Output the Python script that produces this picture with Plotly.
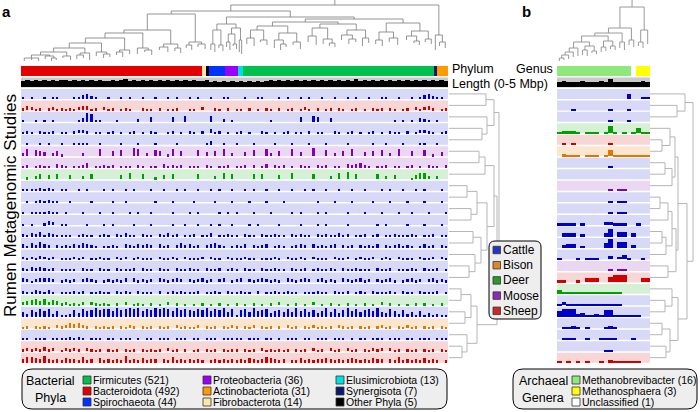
import plotly.graph_objects as go

W, H = 700, 412

# ---------------- data ----------------
phylum_names = ["Bacteroidota", "Fibrobacterota", "Other Phyla", "Spirochaeota", "Proteobacteria",
                "Elusimicrobiota", "Firmicutes", "Synergisota", "Actinobacteriota"]
phylum_counts = [492, 14, 5, 44, 36, 13, 521, 7, 31]
phylum_colors = {"Bacteroidota": "#e40000", "Fibrobacterota": "#fde7a6", "Other Phyla": "#000000",
                 "Spirochaeota": "#0033ff", "Proteobacteria": "#9a00ff", "Elusimicrobiota": "#00e0e0",
                 "Firmicutes": "#00c04e", "Synergisota": "#0b1a6e", "Actinobacteriota": "#ff9a00"}
legend_phyla_cols = [["Firmicutes", "Bacteroidota", "Spirochaeota"],
                     ["Proteobacteria", "Actinobacteriota", "Fibrobacterota"],
                     ["Elusimicrobiota", "Synergisota", "Other Phyla"]]

genus_names = ["Methanobrevibacter", "Unclassified", "Methanosphaera"]
genus_counts = [16, 1, 3]
genus_colors = {"Methanobrevibacter": "#8ee87a", "Unclassified": "#ffffff", "Methanosphaera": "#ffff00"}
legend_genera = ["Methanobrevibacter", "Methanosphaera", "Unclassified"]

host_names = ["Cattle", "Bison", "Deer", "Moose", "Sheep"]
host_bar = {"Cattle": "#0000c8", "Bison": "#e07800", "Deer": "#00a000", "Moose": "#8000c0", "Sheep": "#d00000"}
host_bg = {"Cattle": "#d8d9f6", "Bison": "#fbe6d0", "Deer": "#d6f0d6", "Moose": "#ead8f3", "Sheep": "#f7d6d6"}
host_key = {"Cattle": "#2636c4", "Bison": "#d9882e", "Deer": "#2a9a2a", "Moose": "#8a2ab8", "Sheep": "#cc2a2a"}

hosts_a = ["Cattle", "Sheep", "Cattle", "Cattle", "Cattle", "Moose", "Moose", "Deer",
           "Cattle", "Cattle", "Cattle", "Cattle", "Cattle", "Cattle", "Cattle", "Cattle", "Cattle", "Cattle",
           "Deer", "Cattle", "Bison", "Cattle", "Sheep", "Sheep"]
hosts_b = ["Cattle", "Cattle", "Cattle", "Deer", "Sheep", "Bison", "Cattle", "Cattle", "Moose",
           "Cattle", "Cattle", "Cattle", "Cattle", "Cattle", "Cattle", "Moose", "Sheep", "Deer",
           "Cattle", "Cattle", "Cattle", "Cattle", "Cattle", "Sheep"]

# genome length per bin (0-9 scale of 0-5 Mbp)
length_a = "6767676767 7676767676 6767867676 7676767676 7667565656 5656565676 7676767676 7676767686 7676767676 7676767676"
length_b = "56555 65556 58555 55565"

# relative abundance per bin of genomes (0-9), one string per study
abund_a = [
    "1020010210 0012453100 1002010010 0100201001 0200100120 0010012000 1020010100 2001002010 0100120010 0201453120",
    "2431202312 1213541203 1201210021 1020112001 1030021020 1102010210 2012013102 0120210120 1021202101 2031342012",
    "1001020100 0001498210 0010000300 5000050060 0000600301 0000000010 0000050065 0040000000 0000000201 0104310100",
    "1210211201 1023320110 1201012010 2100120102 1020412010 1201002101 0120110201 1002101201 0120102110 2013321012",
    "0100201001 0012210010 0001000100 0100002000 0002400100 1000100002 0001000200 0100001000 0010020001 0002200100",
    "3706540352 0000300070 0506008703 0650270500 0604050703 0040600730 5007040080 0603050700 4050603070 0500602040",
    "2302312043 1022350213 1302210320 1204231302 1203202130 2130302403 2302031203 1302204345 3202130120 1302031203",
    "0203504050 0400305000 0004060050 0204050000 0500030605 0000505000 4006000050 0030607050 0005030400 0146630300",
    "1121323201 1001010002 0100201000 1002001010 0100102001 0010100200 1001001010 0200100100 1000201001 0010100010",
    "0101212110 0100001000 0100100000 0100010000 1000010001 0001000100 0100000001 0001000100 0010001000 1000100010",
    "1011213110 1000100010 0100010100 1000010001 0100001010 1000100010 0001010001 0100001000 1000100010 0100010001",
    "1010024301 1000010001 0100001000 1000010010 0100101001 0001010000 1000010001 0100001000 0001010000 1000100010",
    "3243524321 2101312023 2031412031 2032413021 3021402132 2031203213 1203231203 1321423021 3023021312 1320213021",
    "4253643032 3243543202 2320432434 3042303534 2303453202 3240323402 3202343042 3234032303 2324032342 3202423032",
    "3232432301 2132302132 2032301312 2031232032 2130312032 1231201213 2031232032 1203213013 2130132032 1203213031",
    "3243432302 2120321031 2032123032 2031203213 1203213013 2031203213 1203213013 2132032132 1203213012 1320321301",
    "4313445302 3230343202 3232404232 3043234303 2342303402 3403234323 2043234303 4232043234 2303234202 3423034232",
    "3214324201 2132302131 2032310312 2030231312 2302132031 2312030213 2131201213 1203213013 2031213203 1203121302",
    "3456473542 3121303212 1020301210 2010302010 1020102010 2010201020 3010201030 1020102010 2010302010 1020201020",
    "5375868362 1374867978 8697898968 7989869787 6879687958 2785967846 7585968574 6958479685 7869548637 3526142312",
    "1202121032 3545320212 1202132021 2021203121 1302120213 2021302120 2031202131 2120321202 1202312021 3120212021",
    "1202120211 2323202120 1202120201 2021202120 1202120212 1202120120 2021202102 1202120201 2021202120 1202120212",
    "2323242301 3232032120 2120212021 2120312020 1202120212 2021203121 2120212031 2031203120 2132303120 2120212021",
    "4665474343 5443634053 4343734353 4404363434 3430343434 3435434654 3403353434 4543434543 4354404363 4343534303",
]
abund_b = [
    "00000 00000 00000 50011", "00010 00000 01000 10000", "00000 00000 01000 10000",
    "12221 01110 17101 01511", "01010 00000 02000 00000", "02111 01110 16111 11111",
    "00000 00000 01000 00000", "00000 00000 00000 00000", "00000 00000 02022 00000",
    "00000 00000 01011 00000", "00000 00000 01011 00000", "22220 20000 33222 00200",
    "04440 30000 48055 04000", "03440 20000 59066 03000", "20002 02110 04035 10010",
    "00000 00000 01011 00000", "22002 04440 06888 00054", "41111 11121 21110 00000",
    "13111 11111 11110 00000", "68883 41131 77211 11100", "01121 01000 12100 00000",
    "01210 01001 12100 01000", "00000 00000 11000 00000", "10101 01001 03122 22100",
]

# dendrograms: leaf "count:height" (top a) or "index:height"; internal "(...)height"
clus = {
    "c1": "(18:61,22:60,16:61)58", "c2": "(20:59,(14:61,12:60)58)56", "c3": "(24:58,18:60)56",
    "c4": "((16:59,20:58)55,14:60)53", "c5": "(22:56,(18:58,16:57)54)52", "c6": "((20:55,14:57)52,24:54)50",
    "c7": "(18:54,(22:52,16:55)50)48", "c8": "((26:50,20:52)47,(18:51,14:53)48)44",
    "c9": "((16:48,14:50)45,(20:47,19:49)44)42",
    "r1": "((12:50,10:52)44,(12:48,10:51)45)30", "r2": "((10:47,8:50)42,(10:46,8:49)44)34", "r3": "(7:52,6:54)40",
    "f1": "((22:44,18:46)38,(16:42,20:45)40)30", "f2": "((20:48,(14:50,16:47)44)40,(22:45,18:49)42)33",
    "f3": "((24:42,20:45)36,(18:44,(16:46,14:47)43)39)28", "f4": "((22:40,(18:44,20:42)39)35,(16:46,18:43)38)30",
    "f5": "((20:44,16:46)40,(22:42,24:45)38)32", "f6": "((24:40,(16:43,14:45)41)36,(18:42,15:44)39)31",
    "sa": "(7:50,(16:46,15:48)42)35",
}
tree_top_a = ("(((((((((({c1},{c2})55,{c3})52,{c4})48,{c5})43,{c6})38,{c7})33,{c8})30,{c9})14,"
              "(({r1},({r2},{r3})28)24,((({f1},{f2})26,({f3},{f4})24)22,({f5},{f6})23)19)17)11,{sa})5").format(**clus)
tree_top_b = ("(((((((((0:61,1:60)58,2:59)55,3:57)52,4:56)48,((5:55,6:56)50,(7:53,8:54)51)46)42,"
              "((9:52,10:51)47,(11:49,12:50)46)41)36,(13:48,14:50)42)33,(15:45,16:47)40)28,"
              "((17:46,18:48)42,19:44)30)7")
tree_rows_a = ("(((0:0,1:0)37,(2:0,(3:0,4:0)33)38)45,((((5:0,6:0)30,7:0)36,(((8:0,9:0)18,(10:0,11:0)22)28,"
               "((12:0,13:0)24,(14:0,(15:0,16:0)20)26)32)38)45,(((17:0,18:0)12,(19:0,20:0)16)22,"
               "(21:0,(22:0,23:0)13)18)28)48)50")
tree_rows_b = ("(((1:0,2:0)27,0:0)35,((((3:0,(4:0,5:0)12)20,((6:0,7:0)15,8:0)22)25,((((9:0,10:0)10,11:0)18,"
               "((12:0,13:0)12,14:0)16)22,(15:0,16:0)18)26)28,((17:0,(18:0,19:0)15)22,((20:0,21:0)12,"
               "(22:0,23:0)16)20)28)37)43")

# ---------------- helpers ----------------
FONT = "Liberation Sans, Arial, sans-serif"
ROW_H = 0.87
NG = sum(phylum_counts)
NB = 100
BW = NG / NB


def digits(s):
    return [int(c) for c in s.replace(" ", "")]


def parse(s):
    pos = 0

    def num():
        nonlocal pos
        st = pos
        while pos < len(s) and (s[pos].isdigit() or s[pos] == "."):
            pos += 1
        return float(s[st:pos])

    def node():
        nonlocal pos
        if s[pos] == "(":
            pos += 1
            kids = [node()]
            while pos < len(s) and s[pos] == ",":
                pos += 1
                kids.append(node())
            pos += 1
            return ("n", num(), kids)
        n = num()
        pos += 1
        return ("l", n, num())

    return node()


def layout_tree(s, index_mode):
    t = parse(s)
    segs = []
    cur = [0.0]

    def rec(t):
        if t[0] == "l":
            if index_mode:
                p = t[1] + 0.5
            else:
                p = cur[0] + t[1] / 2
                cur[0] += t[1]
            return p, t[2]
        h = t[1]
        res = [rec(k) for k in t[2]]
        ps = [r[0] for r in res]
        for p, hk in res:
            segs.append((p, h, p, hk))
        segs.append((min(ps), h, max(ps), h))
        return (min(ps) + max(ps)) / 2, h

    rp, rh = rec(t)
    return segs, rp, rh


def px_x(px):
    return px / W


def px_y(py):
    return 1 - py / H


fig = go.Figure()
shapes = []
annotations = []


def rrect(x0, y0, x1, y1, r):
    X, Y = px_x, px_y
    return (f"M {X(x0 + r)},{Y(y0)} L {X(x1 - r)},{Y(y0)} Q {X(x1)},{Y(y0)} {X(x1)},{Y(y0 + r)} "
            f"L {X(x1)},{Y(y1 - r)} Q {X(x1)},{Y(y1)} {X(x1 - r)},{Y(y1)} L {X(x0 + r)},{Y(y1)} "
            f"Q {X(x0)},{Y(y1)} {X(x0)},{Y(y1 - r)} L {X(x0)},{Y(y0 + r)} Q {X(x0)},{Y(y0)} {X(x0 + r)},{Y(y0)} Z")


def ann(text, px, py, size, xanchor="left", bold=False, angle=0):
    annotations.append(dict(text=("<b>%s</b>" % text) if bold else text, x=px_x(px), y=px_y(py),
                            xref="paper", yref="paper", xanchor=xanchor, yanchor="middle",
                            showarrow=False, textangle=angle, borderpad=0,
                            font=dict(family=FONT, size=size, color="black")))


def rowbg(xref, x0, x1, r, color):
    shapes.append(dict(type="rect", xref=xref, yref="y", x0=x0, x1=x1, y0=-(r + ROW_H), y1=-r,
                       fillcolor=color, line=dict(width=0), layer="below"))


def bars(xa, xs, ys, base, width, color):
    fig.add_trace(go.Bar(x=xs, y=ys, base=base, width=width, xaxis=xa, yaxis="y",
                         marker=dict(color=color, line=dict(width=0)), hoverinfo="skip", showlegend=False))


def lines(segs, xa, ya, color, lw, swap=False):
    xs, ys = [], []
    for (a, b, c, d) in segs:
        if swap:
            xs += [b, d, None]
            ys += [-(a - 0.5 + ROW_H / 2), -(c - 0.5 + ROW_H / 2), None]
        else:
            xs += [a, c, None]
            ys += [b, d, None]
    fig.add_trace(go.Scatter(x=xs, y=ys, mode="lines", xaxis=xa, yaxis=ya,
                             line=dict(color=color, width=lw), hoverinfo="skip", showlegend=False))


# ---------------- panel a strips ----------------
cum = 0
for name, c in zip(phylum_names, phylum_counts):
    bars("x", [cum + c / 2], [ROW_H], 2 - ROW_H, c, phylum_colors[name])
    cum += c
rowbg("x", 0, NG, -1, "#c9c9c9")
lv = digits(length_a)
bars("x", [(i + 0.5) * BW for i in range(len(lv))], [v / 10 * ROW_H for v in lv], 1 - ROW_H, BW, "#000000")

for r, (host, s) in enumerate(zip(hosts_a, abund_a)):
    rowbg("x", 0, NG, r, host_bg[host])
    v = digits(s)
    xs = [(i + 0.5) * BW for i, d in enumerate(v) if d > 0]
    ys = [d / 10 * 0.85 for d in v if d > 0]
    bars("x", xs, ys, -(r + ROW_H), BW * 0.5, host_bar[host])

# ---------------- panel b strips ----------------
NGB = sum(genus_counts)
cum = 0
for name, c in zip(genus_names, genus_counts):
    bars("x4", [cum + c / 2], [ROW_H], 2 - ROW_H, c, genus_colors[name])
    cum += c
rowbg("x4", 0, NGB, -1, "#c9c9c9")
lv = digits(length_b)
bars("x4", [i + 0.5 for i in range(len(lv))], [v / 10 * ROW_H for v in lv], 1 - ROW_H, 1, "#000000")
for r, (host, s) in enumerate(zip(hosts_b, abund_b)):
    rowbg("x4", 0, NGB, r, host_bg[host])
    v = digits(s)
    xs = [i + 0.5 for i, d in enumerate(v) if d > 0]
    ys = [d / 10 * 0.85 for d in v if d > 0]
    bars("x4", xs, ys, -(r + ROW_H), 1.0, host_bar[host])

# ---------------- dendrograms ----------------
segs, rp, rh = layout_tree(tree_top_a, False)
segs.append((rp, rh, rp, 0))
lines(segs, "x", "y2", "#7a7a7a", 0.8)

segs, rp, rh = layout_tree(tree_top_b, True)
segs.append((rp, rh, rp, 0))
lines(segs, "x4", "y2", "#9a9a9a", 1.0)

segs, rp, rh = layout_tree(tree_rows_a, True)
lines(segs, "x3", "y", "#b5b5b5", 1.0, swap=True)

segs, rp, rh = layout_tree(tree_rows_b, True)
lines(segs, "x5", "y", "#b5b5b5", 1.0, swap=True)

# ---------------- legends ----------------
shapes.append(dict(type="path", xref="paper", yref="paper", path=rrect(22, 369, 447, 409, 10),
                   fillcolor="#eeeeee", line=dict(color="black", width=1)))
shapes.append(dict(type="path", xref="paper", yref="paper", path=rrect(513, 369, 697, 409, 10),
                   fillcolor="#eeeeee", line=dict(color="black", width=1)))
shapes.append(dict(type="path", xref="paper", yref="paper", path=rrect(489, 241, 541, 319, 6),
                   fillcolor="#eeeeee", line=dict(color="black", width=1)))


def keybox(px, py, color, s=8):
    shapes.append(dict(type="rect", xref="paper", yref="paper", x0=px_x(px), x1=px_x(px + s),
                       y0=px_y(py + s / 2), y1=px_y(py - s / 2), fillcolor=color,
                       line=dict(color="#333333", width=0.8)))


ann("Bacterial", 50, 381, 12.5, "center")
ann("Phyla", 50, 398, 12.5, "center")
col_x = [83, 203, 336]
row_y = [380, 391, 402]
pc = dict(zip(phylum_names, phylum_counts))
for cx, col in zip(col_x, legend_phyla_cols):
    for ry, name in zip(row_y, col):
        keybox(cx, ry, phylum_colors[name])
        ann("%s (%d)" % (name, pc[name]), cx + 9, ry, 10.5)

ann("Archaeal", 543, 381, 12.5, "center")
ann("Genera", 543, 398, 12.5, "center")
gc = dict(zip(genus_names, genus_counts))
for ry, name in zip(row_y, legend_genera):
    keybox(572, ry, genus_colors[name])
    ann("%s (%d)" % (name, gc[name]), 581, ry, 10.5)

for i, hname in enumerate(host_names):
    py = 250 + i * 15.2
    keybox(493, py, host_key[hname], 7.5)
    ann(hname, 502, py, 12)

# ---------------- labels ----------------
ann("a", 1, 12, 15, bold=True)
ann("b", 521, 12, 15, bold=True)
ann("Phylum", 451, 69.5, 12.5)
ann("Genus", 554, 69.5, 12.5, "right")
ann("Length (0-5 Mbp)", 451, 84, 12.5)
ann("Rumen Metagenomic Studies", 10, 206, 17, "center", angle=-90)

ax = dict(visible=False, showgrid=False, zeroline=False, fixedrange=True)
fig.update_layout(
    width=W, height=H, margin=dict(l=0, r=0, t=0, b=0),
    paper_bgcolor="white", plot_bgcolor="rgba(0,0,0,0)",
    barmode="overlay", bargap=0, showlegend=False,
    xaxis=dict(ax, domain=[px_x(21), px_x(448)], range=[0, NG], anchor="y"),
    xaxis3=dict(ax, domain=[px_x(449), px_x(500)], range=[0, 51], anchor="y"),
    xaxis4=dict(ax, domain=[px_x(557), px_x(650)], range=[0, NGB], anchor="y"),
    xaxis5=dict(ax, domain=[px_x(650), px_x(700)], range=[0, 50], anchor="y"),
    yaxis=dict(ax, domain=[px_y(363), px_y(66)], range=[-(23 + ROW_H) - 0.03, 2.0], anchor="x"),
    yaxis2=dict(ax, domain=[px_y(63), 1], range=[63, 0], anchor="x"),
    shapes=shapes, annotations=annotations,
)
fig.write_html("out.html", config={"displayModeBar": False},
               post_script="document.body.style.margin='0';document.body.style.padding='0';"
                           "document.body.style.overflow='hidden';")
